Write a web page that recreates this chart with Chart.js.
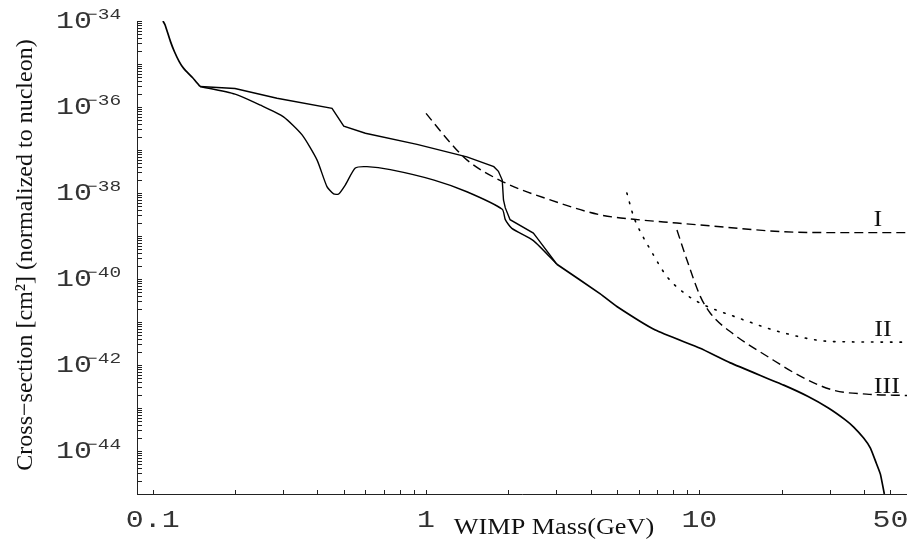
<!DOCTYPE html>
<html>
<head>
<meta charset="utf-8">
<script src="https://cdn.jsdelivr.net/npm/chart.js@4.4.0/dist/chart.umd.min.js"></script>
<style>
  html, body { margin: 0; padding: 0; background: #fff; }
  #wrap { width: 907px; height: 542px; }
</style>
</head>
<body>
<div id="wrap"><canvas id="chart"></canvas></div>
<script>
// WIMP mass (GeV) and cross-section (cm^2)

// solid curves: common start, two branches, common tail
const massHead = [0.109, 0.111, 0.116, 0.120, 0.125, 0.130, 0.140, 0.149];
const sigmaHead = [1.0e-34, 8.1e-35, 3.4e-35, 1.95e-35, 1.14e-35, 7.8e-36, 4.8e-36, 3.0e-36];

const massUpper = [0.200, 0.285, 0.453, 0.50, 0.60, 0.927, 1.41, 1.77, 1.84, 1.90, 1.92, 1.95, 2.03, 2.47, 2.58];
const sigmaUpper = [2.7e-36, 1.6e-36, 9.3e-37, 3.6e-37, 2.45e-37, 1.35e-37, 6.9e-38, 4.1e-38, 3.2e-38, 2.0e-38, 6.9e-39, 4.5e-39, 2.4e-39, 1.17e-39, 8.1e-40];

const massLower = [0.200, 0.248, 0.301, 0.352, 0.399, 0.434, 0.459, 0.479, 0.507, 0.551, 0.608, 0.740, 1.07, 1.41, 1.90, 1.95, 2.06, 2.47];
const sigmaLower = [2.0e-36, 1.1e-36, 5.9e-37, 2.24e-37, 5.9e-38, 1.41e-38, 9.5e-39, 9.5e-39, 1.55e-38, 3.8e-38, 4.1e-38, 3.5e-38, 2.0e-38, 1.07e-38, 4.2e-39, 2.4e-39, 1.5e-39, 7.8e-40];

const massTail = [3.01, 4.34, 4.99, 6.9, 10.07, 12.98, 20.35, 25.0, 29.65, 34.2, 36.7, 39.9, 42.25, 44.4, 45.95, 47.5];
const sigmaTail = [2.2e-40, 4.5e-41, 2.3e-41, 6.5e-42, 2.45e-42, 1.12e-42, 3.4e-43, 1.85e-43, 1.0e-43, 5.3e-44, 3.6e-44, 2.0e-44, 1.17e-44, 5.2e-45, 2.9e-45, 1.0e-45];

// limit curves I, II, III
const massI = [1.0, 1.23, 1.41, 1.92, 2.85, 4.34, 5.75, 8.28, 10.07, 20.3, 30.9, 57.6];
const sigmaI = [7.1e-37, 1.45e-37, 5.9e-38, 1.8e-38, 6.9e-39, 3.1e-39, 2.45e-39, 2.0e-39, 1.8e-39, 1.26e-39, 1.2e-39, 1.2e-39];

const massII = [5.43, 5.75, 6.2, 6.62, 7.6, 8.77, 10.07, 13.4, 20.3, 30.9, 57.6];
const sigmaII = [1.0e-38, 2.8e-39, 1.0e-39, 4.8e-40, 1.15e-40, 4.8e-41, 2.75e-41, 1.35e-41, 5.6e-42, 3.5e-42, 3.4e-42];

const massIII = [8.28, 9.0, 10.07, 10.97, 13.4, 17.7, 23.4, 30.9, 40.9, 57.6];
const sigmaIII = [1.38e-39, 2.8e-40, 4.0e-41, 1.6e-41, 5.1e-42, 1.6e-42, 5.5e-43, 2.6e-43, 2.1e-43, 1.95e-43];

const curveLabels = ['I', 'II', 'III'];
const curveLabelMass = [45, 47, 48.5];
const curveLabelSigma = [2.3e-39, 6.5e-42, 3.1e-43];

const xTickValues = [0.1, 1, 10, 50];
const xTickLabels = ['0.1', '1', '10', '50'];
const yTickExponents = [-34, -36, -38, -40, -42, -44];

const xMin = 0.0876, xMax = 57.5;
const yMin = 1e-45, yMax = 1e-34;

function pts(ms, ss) {
  return ms.map((m, i) => ({ x: m, y: ss[i] }));
}

const monoFont = '"Liberation Mono", "Courier New", monospace';
const serifFont = '"Liberation Serif", "Times New Roman", serif';

// the reference text is a bit wider than the fonts here
function wideText(ctx, text, x, y, sx) {
  ctx.save();
  ctx.translate(x, y);
  ctx.scale(sx, 1);
  ctx.fillText(text, 0, 0);
  ctx.restore();
}

// Mathematica-like frame: inward ticks, 10^n labels, titles
const axesPlugin = {
  id: 'mmaAxes',
  afterDraw(chart) {
    const { ctx, chartArea: a } = chart;
    const xs = chart.scales.x, ys = chart.scales.y;
    ctx.save();
    ctx.strokeStyle = '#222';
    ctx.lineWidth = 1;
    ctx.beginPath();
    ctx.moveTo(a.left + 0.5, a.top);
    ctx.lineTo(a.left + 0.5, a.bottom + 0.5);
    ctx.lineTo(a.right, a.bottom + 0.5);
    ctx.stroke();

    // y minor ticks
    ctx.beginPath();
    for (let e = -45; e <= -34; e++) {
      for (let k = 1; k <= 9; k++) {
        const v = k * Math.pow(10, e);
        if (v < yMin * 0.999 || v > yMax * 1.001) continue;
        const py = Math.round(ys.getPixelForValue(v)) + 0.5;
        ctx.moveTo(a.left, py);
        ctx.lineTo(a.left + 5, py);
      }
    }
    // x minor ticks
    for (let e = -1; e <= 1; e++) {
      for (let k = 1; k <= 9; k++) {
        const v = k * Math.pow(10, e);
        if (v < 0.1 || v > xMax) continue;
        const px = Math.round(xs.getPixelForValue(v)) + 0.5;
        ctx.moveTo(px, a.bottom);
        ctx.lineTo(px, a.bottom - 4);
      }
    }
    ctx.stroke();

    ctx.fillStyle = '#333';
    // y labels
    yTickExponents.forEach(e => {
      const py = ys.getPixelForValue(Math.pow(10, e));
      ctx.font = '23px ' + monoFont;
      ctx.textAlign = 'right';
      ctx.textBaseline = 'middle';
      wideText(ctx, '10', 92, py + 1, 1.3);
      ctx.font = '15px ' + monoFont;
      ctx.textAlign = 'left';
      ctx.textBaseline = 'alphabetic';
      wideText(ctx, '\u2212' + Math.abs(e), 86, py - 2, 1.3);
    });
    // x labels
    ctx.font = '23px ' + monoFont;
    ctx.textAlign = 'center';
    ctx.textBaseline = 'middle';
    xTickValues.forEach((v, i) => {
      wideText(ctx, xTickLabels[i], xs.getPixelForValue(v), 521, 1.3);
    });

    // axis titles
    ctx.fillStyle = '#111';
    ctx.font = '23px ' + serifFont;
    ctx.textBaseline = 'alphabetic';
    wideText(ctx, 'WIMP Mass(GeV)', 554, 534, 1.14);
    ctx.save();
    ctx.translate(32, 255);
    ctx.rotate(-Math.PI / 2);
    ctx.font = '24px ' + serifFont;
    ctx.fillText('Cross\u2212section [cm\u00b2] (normalized to nucleon)', 0, 0);
    ctx.restore();

    // curve labels
    ctx.font = '23px ' + serifFont;
    ctx.textBaseline = 'middle';
    curveLabels.forEach((t, i) => {
      wideText(ctx, t, xs.getPixelForValue(curveLabelMass[i]), ys.getPixelForValue(curveLabelSigma[i]), 1.14);
    });
    ctx.restore();
  }
};

function line(label, data, extra) {
  return Object.assign({ label, data, borderColor: '#000', borderWidth: 1.4, pointRadius: 0,
    showLine: true, fill: false, tension: 0 }, extra || {});
}

const nH = massHead.length - 1;
// branches are joined to the last head point and the first tail point
const upperData = pts([massHead[nH]].concat(massUpper, [massTail[0]]), [sigmaHead[nH]].concat(sigmaUpper, [sigmaTail[0]]));
const lowerData = pts([massHead[nH]].concat(massLower, [massTail[0]]), [sigmaHead[nH]].concat(sigmaLower, [sigmaTail[0]]));

new Chart(document.getElementById('chart'), {
  type: 'scatter',
  data: {
    datasets: [
      line('head', pts(massHead, sigmaHead), { borderWidth: 1.7, tension: 0.2 }),
      line('upper', upperData),
      line('lower', lowerData, { tension: 0.2 }),
      line('tail', pts(massTail, sigmaTail), { borderWidth: 1.7, tension: 0.15 }),
      line('I', pts(massI, sigmaI), { borderDash: [9, 5], cubicInterpolationMode: 'monotone' }),
      line('II', pts(massII, sigmaII), { borderWidth: 1.6, borderDash: [1.5, 8], borderCapStyle: 'round',
        cubicInterpolationMode: 'monotone' }),
      line('III', pts(massIII, sigmaIII), { borderDash: [9, 5], cubicInterpolationMode: 'monotone' })
    ]
  },
  options: {
    responsive: true,
    maintainAspectRatio: false,
    animation: false,
    layout: { padding: { left: 137, top: 21, right: 0, bottom: 48 } },
    plugins: { legend: { display: false }, tooltip: { enabled: false } },
    scales: {
      x: { type: 'logarithmic', min: xMin, max: xMax, display: false },
      y: { type: 'logarithmic', min: yMin, max: yMax, display: false }
    }
  },
  plugins: [axesPlugin]
});
</script>
</body>
</html>
